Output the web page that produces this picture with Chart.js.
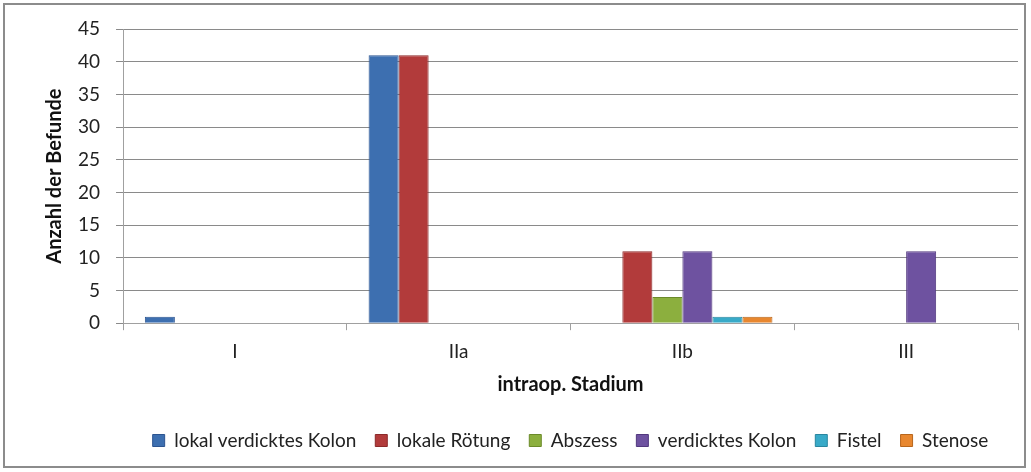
<!DOCTYPE html>
<html>
<head>
<meta charset="utf-8">
<script src="https://cdn.jsdelivr.net/npm/chart.js@4/dist/chart.umd.min.js"></script>
<style>
    html, body { margin: 0; padding: 0; background: #fff; }
    #wrap { position: relative; width: 1031px; height: 472px; }
    #frame { position: absolute; left: 3px; top: 3px; width: 1019px; height: 461px; border: 2px solid #8c8c8c; pointer-events: none; }
    canvas { position: absolute; left: 0; top: 0; }
</style>
</head>
<body>
<div id="wrap">
    <canvas id="befundeChart" width="1031" height="472"></canvas>
    <div id="frame"></div>
</div>
<script>
const stages = ["I", "IIa", "IIb", "III"];
const seriesNames = ["lokal verdicktes Kolon", "lokale Rötung", "Abszess", "verdicktes Kolon", "Fistel", "Stenose"];
const lokalVerdickt = [1, 41, 0, 0];
const lokaleRoetung = [0, 41, 11, 0];
const abszess = [0, 0, 4, 0];
const verdicktesKolon = [0, 0, 11, 11];
const fistel = [0, 0, 1, 0];
const stenose = [0, 0, 1, 0];
const yTicks = [0, 5, 10, 15, 20, 25, 30, 35, 40, 45];

const fills = ["#3d6fb0", "#b23b3b", "#8caf3e", "#6e52a0", "#38aac8", "#e8872f"];
const edges = ["#2c5490", "#8c2a2a", "#6b8a2a", "#52387e", "#2a869f", "#b8661c"];
const values = [lokalVerdickt, lokaleRoetung, abszess, verdicktesKolon, fistel, stenose];

const font = "Lato, 'Open Sans', sans-serif";

// null instead of 0 so empty bars are not drawn
const datasets = seriesNames.map((name, i) => ({
    label: name,
    data: values[i].map(v => v === 0 ? null : v),
    backgroundColor: fills[i],
    borderColor: edges[i],
    borderWidth: 1,
    barPercentage: 1.0,
    categoryPercentage: 0.805
}));

const ctx = document.getElementById("befundeChart").getContext("2d");
new Chart(ctx, {
    type: "bar",
    data: { labels: stages, datasets: datasets },
    options: {
        responsive: false,
        animation: false,
        layout: { padding: { left: 43, right: 13, top: 29, bottom: 12 } },
        plugins: {
            tooltip: { enabled: false },
            legend: {
                position: "bottom",
                fullSize: false,
                labels: {
                    boxWidth: 12,
                    boxHeight: 12,
                    padding: 19,
                    color: "#222",
                    font: { family: font, size: 19 }
                }
            }
        },
        scales: {
            x: {
                grid: { drawOnChartArea: false, drawTicks: true, tickLength: 7, color: "#a0a0a0" },
                border: { color: "#a0a0a0" },
                ticks: { color: "#222", padding: 10, font: { family: font, size: 19 } },
                title: {
                    display: true,
                    text: "intraop. Stadium",
                    color: "#111",
                    padding: { top: 0, bottom: 15 },
                    font: { family: font, size: 20, weight: "bold" }
                }
            },
            y: {
                min: 0,
                max: 45,
                afterBuildTicks: axis => { axis.ticks = yTicks.map(v => ({ value: v })); },
                grid: { color: "#8a8a8a", tickLength: 7 },
                border: { color: "#a0a0a0" },
                ticks: { color: "#222", padding: 16, font: { family: font, size: 19 } },
                title: {
                    display: true,
                    text: "Anzahl der Befunde",
                    color: "#111",
                    padding: { top: 0, bottom: -5 },
                    font: { family: font, size: 20, weight: "bold" }
                }
            }
        }
    }
});
</script>
</body>
</html>
